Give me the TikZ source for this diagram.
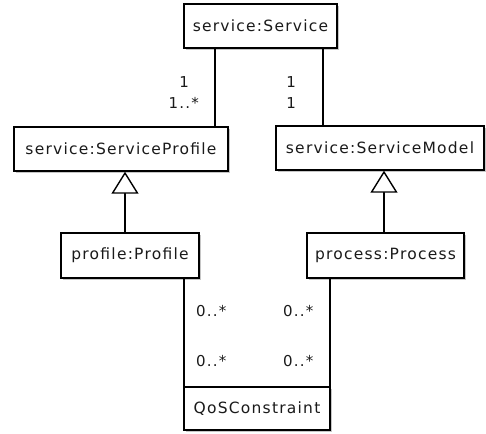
\documentclass[tikz,border=0pt]{standalone}
\usepackage{fontspec}
\setmainfont{DejaVu Sans}[LetterSpace=8]
\usetikzlibrary{arrows.meta,shadows}
\definecolor{txt}{HTML}{1A1A1A}
\tikzset{
  cls/.style={draw=black, line width=1.4pt, fill=white, inner sep=0pt,
    minimum height=44pt, text=txt, font=\fontsize{15.5}{18}\selectfont,
    drop shadow={shadow xshift=2pt, shadow yshift=-2pt, fill=gray!45, opacity=1}},
  conn/.style={line width=1.4pt},
  gen/.style={line width=1.4pt, -{Triangle[open, width=27pt, length=22pt, fill=white]}},
  mult/.style={inner sep=0pt, text=txt, font=\fontsize{15}{17}\selectfont}
}
\begin{document}
\begin{tikzpicture}[x=1pt, y=-1pt]
\useasboundingbox (0,0) rectangle (486,433);
\node[cls, minimum width=153pt] (svc) at (260.5,26) {service:Service};
\node[cls, minimum width=214pt] (sp) at (121,149) {service:ServiceProfile};
\node[cls, minimum width=208pt] (sm) at (380,148) {service:ServiceModel};
\node[cls, minimum width=138pt, minimum height=45pt] (pf) at (130,255.5) {profile:Profile};
\node[cls, minimum width=157pt, minimum height=45pt] (pc) at (385.5,255.5) {process:Process};
\node[cls, minimum width=146pt, minimum height=43pt] (qos) at (257,408.5) {QoSConstraint};
% associations
\draw[conn] (svc.south -| 215,0) -- (sp.north -| 215,0);
\draw[conn] (svc.south -| 323,0) -- (sm.north -| 323,0);
\draw[conn] (pf.south -| 184,0) -- (qos.south -| 184,0);
\draw[conn] (pc.south -| 330,0) -- (qos.south -| 330,0);
% generalizations
\draw[gen] (pf.north -| 125,0) -- (sp.south -| 125,0);
\draw[gen] (pc.north -| 384,0) -- (sm.south -| 384,0);
% multiplicities
\node[mult, anchor=east] (m1) at (189,82) {1};
\node[mult, anchor=east] (m2) at (199,103) {1..*};
\node[mult, anchor=east] (m3) at (296,82) {1};
\node[mult, anchor=east] (m4) at (296,103) {1};
\node[mult, anchor=west] (m5) at (196,311) {0..*};
\node[mult, anchor=west] (m6) at (196,361) {0..*};
\node[mult, anchor=west] (m7) at (283,311) {0..*};
\node[mult, anchor=west] (m8) at (283,361) {0..*};
\end{tikzpicture}
\end{document}
